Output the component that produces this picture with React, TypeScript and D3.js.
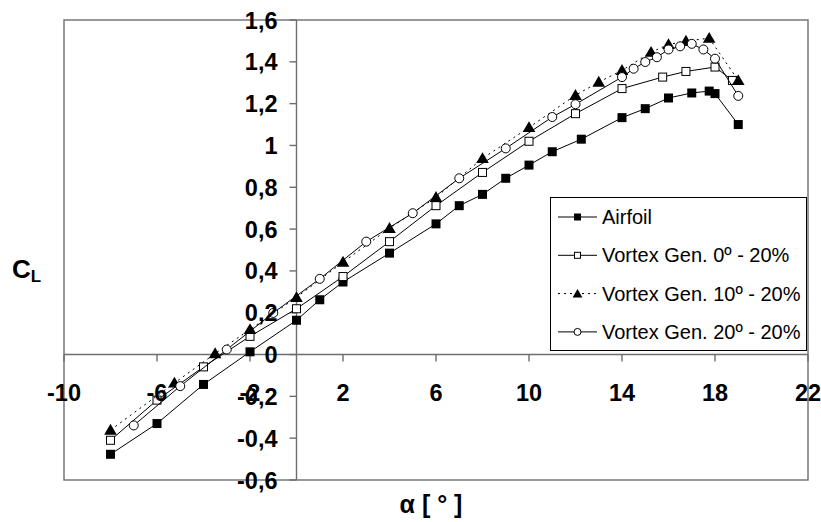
import React from 'react';
import * as d3 from 'd3';

// tamanho fixo da figura
const width = 821;
const height = 522;
const left = 64, right = 808, top = 20, bottom = 480;

// dados
const alphaAirfoil = [-8, -6, -4, -2, 0, 1, 2, 4, 6, 7, 8, 9, 10, 11, 12.25, 14, 15, 16, 17, 17.75, 18, 19];
const clAirfoil = [-0.477, -0.33, -0.143, 0.013, 0.164, 0.262, 0.347, 0.485, 0.625, 0.712, 0.766, 0.843, 0.906, 0.97, 1.03, 1.133, 1.176, 1.227, 1.251, 1.26, 1.248, 1.1];

const alphaVG0 = [-8, -6, -4, -2, 0, 2, 4, 6, 8, 10, 12, 14, 15.75, 16.75, 18, 18.75];
const clVG0 = [-0.41, -0.218, -0.059, 0.087, 0.219, 0.373, 0.54, 0.712, 0.871, 1.02, 1.152, 1.272, 1.327, 1.354, 1.375, 1.311];

const alphaVG10 = [-8, -5.25, -3.5, -2, 0, 2, 4, 6, 8, 10, 12, 13, 14, 15.25, 16, 16.75, 17.75, 19];
const clVG10 = [-0.361, -0.136, 0.005, 0.12, 0.273, 0.442, 0.604, 0.752, 0.938, 1.086, 1.24, 1.303, 1.359, 1.446, 1.483, 1.499, 1.513, 1.311];

const alphaVG20 = [-7, -5, -3, -1, 1, 3, 5, 7, 9, 11, 12, 14, 14.5, 15, 15.5, 16, 16.5, 17, 17.5, 18, 19];
const clVG20 = [-0.339, -0.151, 0.024, 0.199, 0.362, 0.54, 0.676, 0.843, 0.986, 1.136, 1.197, 1.327, 1.367, 1.399, 1.422, 1.459, 1.474, 1.486, 1.459, 1.415, 1.237];

const xTicks = [-10, -6, -2, 2, 6, 10, 14, 18, 22];
const yTicks = [-0.6, -0.4, -0.2, 0, 0.2, 0.4, 0.6, 0.8, 1, 1.2, 1.4, 1.6];

const seriesNames = ['Airfoil', 'Vortex Gen. 0º - 20%', 'Vortex Gen. 10º - 20%', 'Vortex Gen. 20º - 20%'];
const seriesMarkers = ['squareFilled', 'squareOpen', 'triangle', 'circle'];

const x = d3.scaleLinear().domain([-10, 22]).range([left, right]);
const y = d3.scaleLinear().domain([-0.6, 1.6]).range([bottom, top]);

const fmt = (v: number) => (Math.round(v * 10) / 10).toString().replace('.', ',');

function Marker({ kind, cx, cy, s }: { kind: string; cx: number; cy: number; s: number }) {
    if (kind === 'squareFilled')
        return <rect x={cx - s / 2} y={cy - s / 2} width={s} height={s} fill="#000" />;
    if (kind === 'squareOpen')
        return <rect x={cx - s / 2 + 0.5} y={cy - s / 2 + 0.5} width={s - 1} height={s - 1} fill="#fff" stroke="#000" strokeWidth={1} />;
    if (kind === 'triangle') {
        const p = d3.symbol(d3.symbolTriangle, s * s * 0.85)();
        return <path d={p || ''} transform={`translate(${cx},${cy + 1})`} fill="#000" />;
    }
    return <circle cx={cx} cy={cy} r={s / 2} fill="#fff" stroke="#000" strokeWidth={1} />;
}

export default function App() {
    const series = [
        { a: alphaAirfoil, c: clAirfoil },
        { a: alphaVG0, c: clVG0 },
        { a: alphaVG10, c: clVG10 },
        { a: alphaVG20, c: clVG20 },
    ];
    const line = d3.line<[number, number]>().x(d => x(d[0])).y(d => y(d[1]));
    const axisColor = '#6e6e6e';
    const font = 'Liberation Sans, Arial, sans-serif';
    const x0 = x(0), y0 = y(0);

    return (
        <svg width={width} height={height} style={{ position: 'absolute', left: 0, top: 0 }} fontFamily={font}>
            <rect x={0} y={0} width={width} height={height} fill="#fff" />
            {/* moldura da área do gráfico */}
            <rect x={left} y={top} width={right - left} height={bottom - top} fill="none" stroke={axisColor} strokeWidth={1.4} />
            {/* eixos que cruzam no zero */}
            <line x1={left} x2={right} y1={y0} y2={y0} stroke={axisColor} strokeWidth={1.4} />
            <line x1={x0} x2={x0} y1={top} y2={bottom} stroke={axisColor} strokeWidth={1.4} />
            {xTicks.map(t => (
                <line key={'xt' + t} x1={x(t)} x2={x(t)} y1={y0} y2={y0 + 7} stroke={axisColor} strokeWidth={1.4} />
            ))}
            {yTicks.map(t => (
                <line key={'yt' + t} x1={x0 - 7} x2={x0} y1={y(t)} y2={y(t)} stroke={axisColor} strokeWidth={1.4} />
            ))}

            {/* séries */}
            {series.map((s, i) => {
                const pts = s.a.map((a, j) => [a, s.c[j]] as [number, number]);
                return (
                    <g key={'s' + i}>
                        <path d={line(pts) || ''} fill="none" stroke="#000" strokeWidth={1}
                            strokeDasharray={i === 2 ? '2,4' : undefined} />
                        {pts.map((p, j) => (
                            <Marker key={j} kind={seriesMarkers[i]} cx={x(p[0])} cy={y(p[1])} s={9} />
                        ))}
                    </g>
                );
            })}

            {/* rótulos dos ticks */}
            {xTicks.map(t => (
                <text key={'xl' + t} x={x(t)} y={y0 + 46} textAnchor="middle" fontSize={23.5} fontWeight="bold">{t}</text>
            ))}
            {yTicks.map(t => (
                <text key={'yl' + t} x={x0 - 19} y={y(t) + 8.5} textAnchor="end" fontSize={23.5} fontWeight="bold">{fmt(t)}</text>
            ))}

            {/* títulos dos eixos */}
            <text x={12} y={278} fontSize={26} fontWeight="bold">C<tspan fontSize={17} dy={4}>L</tspan></text>
            <text x={431} y={513} textAnchor="middle" fontSize={25} fontWeight="bold">α [ ° ]</text>

            {/* legenda */}
            <rect x={550.5} y={197.5} width={256} height={153} fill="#fff" stroke="#000" strokeWidth={1} />
            {seriesNames.map((name, i) => {
                const ly = 217 + i * 38.3;
                return (
                    <g key={'lg' + i}>
                        <line x1={558} x2={597} y1={ly} y2={ly} stroke="#000" strokeWidth={1}
                            strokeDasharray={i === 2 ? '2,4' : undefined} />
                        <Marker kind={seriesMarkers[i]} cx={577.5} cy={ly} s={7} />
                        <text x={602} y={ly + 7} fontSize={20}>{name}</text>
                    </g>
                );
            })}
        </svg>
    );
}
